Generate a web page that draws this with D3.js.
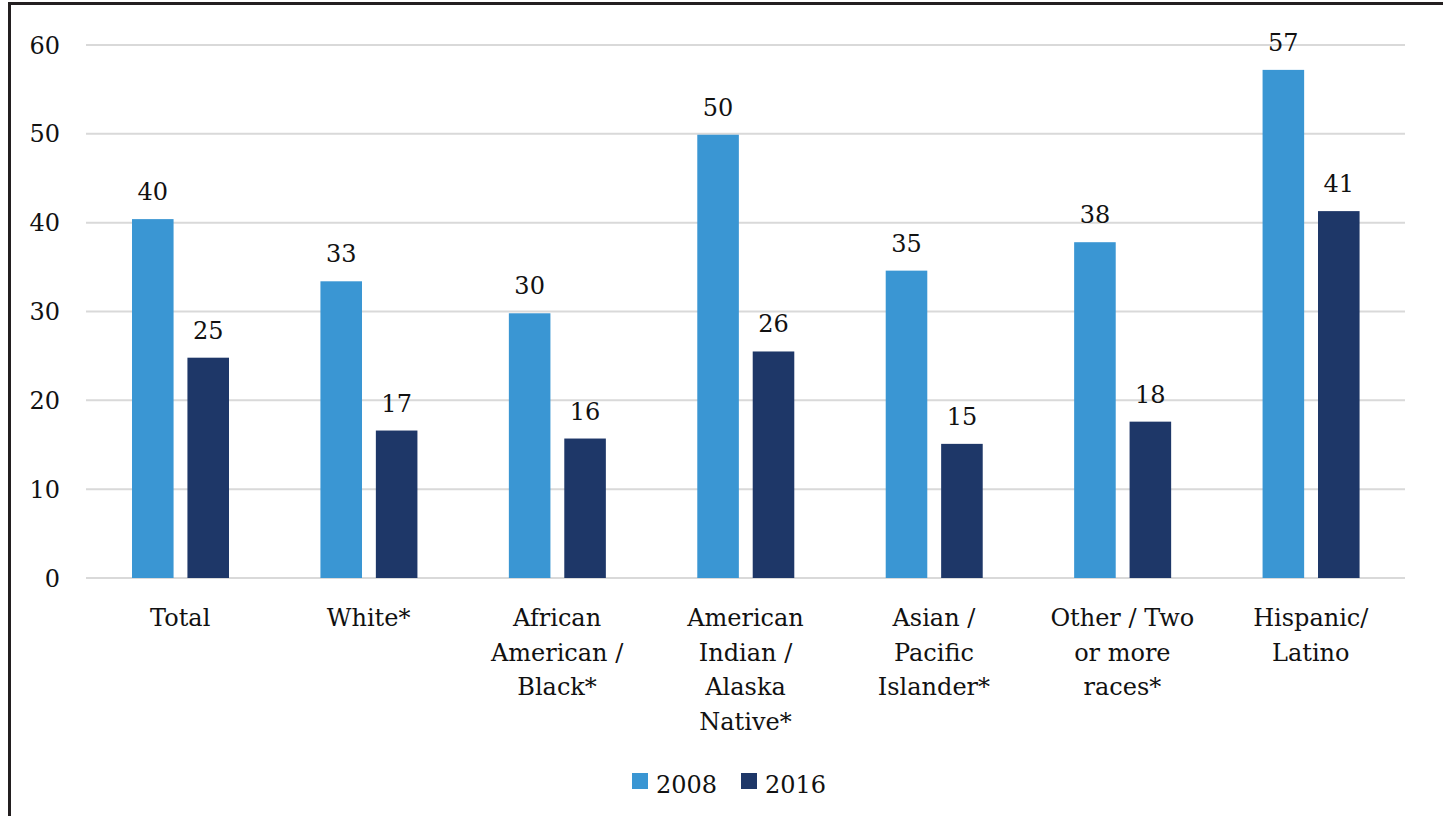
<!doctype html>
<html>
<head>
<meta charset="utf-8">
<script src="https://d3js.org/d3.v7.min.js"></script>
<style>
  body { margin: 0; background: #fff; }
  svg { display: block; }
  text { font-family: "Century Schoolbook", "DejaVu Serif", serif; fill: #111; }
</style>
</head>
<body>
<svg id="chart" width="1443" height="816"></svg>
<script>
// data
var categories = ["Total", "White*", "African American / Black*", "American Indian / Alaska Native*",
                  "Asian / Pacific Islander*", "Other / Two or more races*", "Hispanic/ Latino"];
var catLines = [["Total"], ["White*"], ["African", "American /", "Black*"],
                ["American", "Indian /", "Alaska", "Native*"], ["Asian /", "Pacific", "Islander*"],
                ["Other / Two", "or more", "races*"], ["Hispanic/", "Latino"]];
var series = ["2008", "2016"];
var values2008 = [40.4, 33.4, 29.8, 49.9, 34.6, 37.8, 57.2];
var values2016 = [24.8, 16.6, 15.7, 25.5, 15.1, 17.6, 41.3];
var yTicks = [0, 10, 20, 30, 40, 50, 60];
var colors = ["#3a96d3", "#1e3768"];

var svg = d3.select("#chart");

// frame (only left and top edges visible in the crop)
svg.append("path")
  .attr("d", "M9.5,816 L9.5,3.5 L1443,3.5")
  .attr("fill", "none")
  .attr("stroke", "#231f20")
  .attr("stroke-width", 3);

var x0 = d3.scaleBand().domain(categories).range([86, 1405]);
var x1 = d3.scaleBand().domain(series).range([46, 143]).paddingInner(0.25);
var y = d3.scaleLinear().domain([0, 60]).range([578, 45]);

// gridlines
svg.append("g").selectAll("line")
  .data(yTicks)
  .join("line")
  .attr("x1", 86).attr("x2", 1405)
  .attr("y1", d => y(d)).attr("y2", d => y(d))
  .attr("stroke", "#d9d9d9")
  .attr("stroke-width", 2);

svg.append("g").selectAll("text")
  .data(yTicks)
  .join("text")
  .attr("x", 60)
  .attr("y", d => y(d))
  .attr("dy", "0.36em")
  .attr("text-anchor", "end")
  .style("font-size", "24px")
  .text(d => d);

var rows = categories.map((c, i) => ({ cat: c, vals: [values2008[i], values2016[i]] }));

var groups = svg.append("g").selectAll("g")
  .data(rows)
  .join("g")
  .attr("transform", d => "translate(" + x0(d.cat) + ",0)");

groups.selectAll("rect")
  .data(d => d.vals.map((v, j) => ({ s: series[j], v: v, j: j })))
  .join("rect")
  .attr("x", d => x1(d.s))
  .attr("width", x1.bandwidth())
  .attr("y", d => y(d.v))
  .attr("height", d => y(0) - y(d.v))
  .attr("fill", d => colors[d.j]);

groups.selectAll("text.val")
  .data(d => d.vals.map((v, j) => ({ s: series[j], v: v })))
  .join("text")
  .attr("class", "val")
  .attr("x", d => x1(d.s) + x1.bandwidth() / 2)
  .attr("y", d => y(d.v) - 19)
  .attr("text-anchor", "middle")
  .style("font-size", "24px")
  .text(d => Math.round(d.v));

// category labels
svg.append("g").selectAll("text")
  .data(categories)
  .join("text")
  .attr("x", d => x0(d) + x0.bandwidth() / 2)
  .attr("y", 626)
  .attr("text-anchor", "middle")
  .style("font-size", "24px")
  .each(function(d, i) {
    d3.select(this).selectAll("tspan")
      .data(catLines[i])
      .join("tspan")
      .attr("x", x0(d) + x0.bandwidth() / 2)
      .attr("dy", (t, k) => k === 0 ? 0 : 34.7)
      .text(t => t);
  });

// legend
var legend = svg.append("g").selectAll("g")
  .data(series)
  .join("g")
  .attr("transform", (d, i) => "translate(" + (632 + i * 109) + ",773)");
legend.append("rect")
  .attr("width", 16).attr("height", 16)
  .attr("fill", (d, i) => colors[i]);
legend.append("text")
  .attr("x", 24).attr("y", 20)
  .style("font-size", "24px")
  .text(d => d);
</script>
</body>
</html>
